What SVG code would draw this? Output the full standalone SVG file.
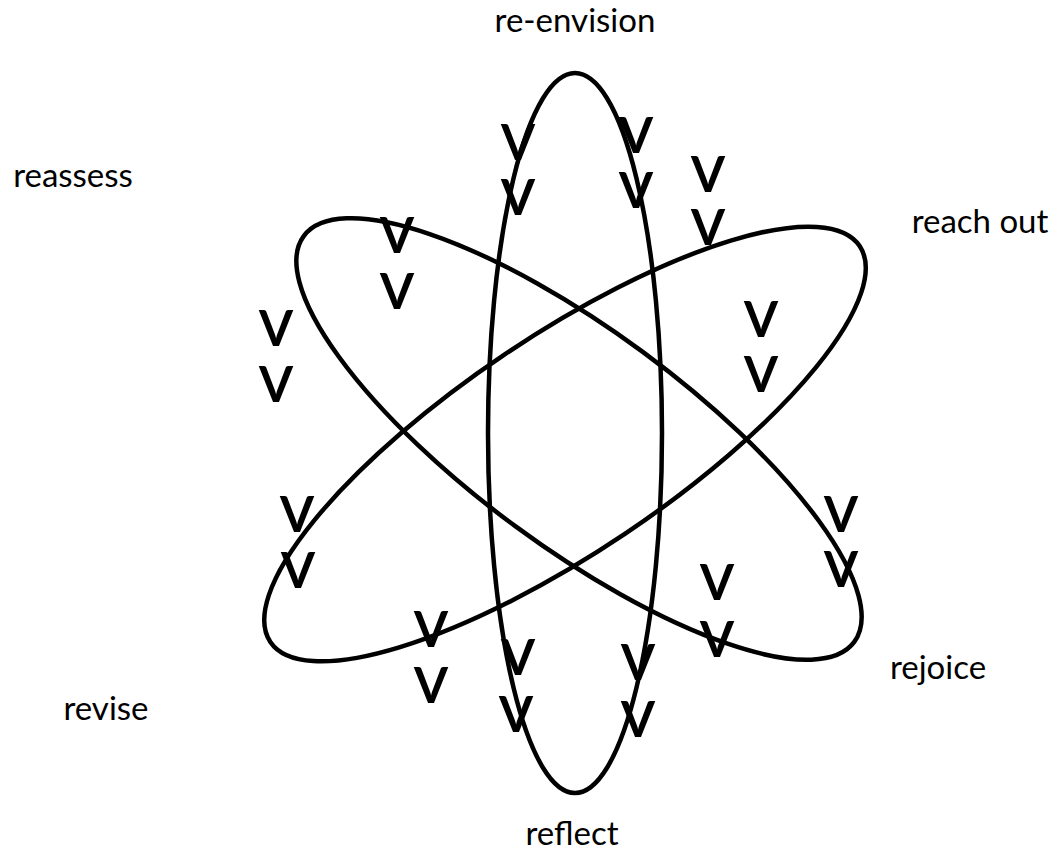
<svg xmlns="http://www.w3.org/2000/svg" width="1057" height="850" viewBox="0 0 1057 850">
<style>
.orbit{fill:none;stroke:#000;stroke-width:4.5}
.lbl{font-family:Lato,"Liberation Sans",sans-serif;font-size:33px;fill:#000;text-anchor:middle}
.v{font-family:Lato,"Liberation Sans",sans-serif;font-weight:bold;font-size:49px;fill:#000;text-anchor:middle}
</style>
<rect width="1057" height="850" fill="#fff"/>
<g id="orbits">
<ellipse id="orbit-vertical" class="orbit" cx="575" cy="433" rx="87" ry="360"/>
<ellipse id="orbit-a" class="orbit" cx="579" cy="439" rx="342" ry="108" transform="rotate(36.4 579 439)"/>
<ellipse id="orbit-b" class="orbit" cx="565" cy="444" rx="355" ry="108" transform="rotate(-33.9 565 444)"/>
</g>
<g id="labels">
<text id="re-envision" class="lbl" x="575" y="32">re-envision</text>
<text id="reassess" class="lbl" x="73" y="187">reassess</text>
<text id="reach-out" class="lbl" x="980" y="233">reach out</text>
<text id="rejoice" class="lbl" x="938" y="679">rejoice</text>
<text id="revise" class="lbl" x="106" y="720">revise</text>
<text id="reflect" class="lbl" x="572" y="845">reflect</text>
</g>
<g id="marks">
<text class="v" x="518" y="160">V</text><text class="v" x="518" y="215">V</text>
<text class="v" x="636" y="153">V</text><text class="v" x="636" y="208">V</text>
<text class="v" x="708" y="192">V</text><text class="v" x="708" y="245">V</text>
<text class="v" x="397" y="253">V</text><text class="v" x="397" y="309">V</text>
<text class="v" x="276" y="346">V</text><text class="v" x="276" y="402">V</text>
<text class="v" x="761" y="337">V</text><text class="v" x="761" y="392">V</text>
<text class="v" x="297" y="532">V</text><text class="v" x="298" y="588">V</text>
<text class="v" x="431" y="647">V</text><text class="v" x="431" y="703">V</text>
<text class="v" x="518" y="675">V</text><text class="v" x="516" y="732">V</text>
<text class="v" x="638" y="680">V</text><text class="v" x="638" y="737">V</text>
<text class="v" x="841" y="532">V</text><text class="v" x="841" y="587">V</text>
<text class="v" x="717" y="600">V</text><text class="v" x="717" y="657">V</text>
</g>
</svg>
